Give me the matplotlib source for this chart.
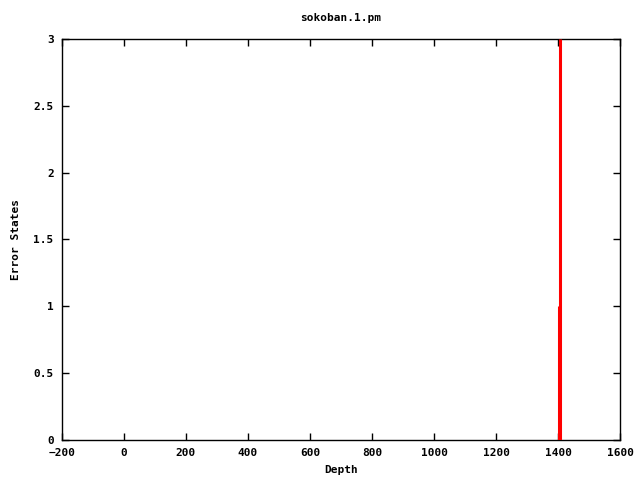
import numpy as np
import matplotlib
matplotlib.use("Agg")
import matplotlib.pyplot as plt

depth = [1402, 1408]
error_states = [1, 3]

x_ticks = [-200, 0, 200, 400, 600, 800, 1000, 1200, 1400, 1600]
y_ticks = [0, 0.5, 1, 1.5, 2, 2.5, 3]
y_labels = ["0", "0.5", "1", "1.5", "2", "2.5", "3"]

plt.rcParams['font.family'] = ['DejaVu Sans Mono']
plt.rcParams['font.size'] = 8
plt.rcParams['font.weight'] = 'bold'

fig = plt.figure(figsize=(6.4, 4.8), dpi=100)
ax = fig.add_axes([62 / 640, 1 - 440 / 480, 558 / 640, 401 / 480])

ax.vlines(depth, 0, error_states, color='#ff0000', linewidth=2.2, zorder=3)

ax.set_xlim(-200, 1600)
ax.set_ylim(0, 3)
ax.set_xticks(x_ticks)
ax.set_yticks(y_ticks)
ax.set_yticklabels(y_labels)
ax.tick_params(direction='in', length=5, width=1, top=True, right=True,
               labelsize=8, pad=6)
for s in ax.spines.values():
    s.set_linewidth(1)

ax.set_title("sokoban.1.pm", fontsize=8, fontweight='bold', pad=13)
ax.set_xlabel("Depth", fontsize=8, fontweight='bold', labelpad=5)
ax.set_ylabel("Error States", fontsize=8, fontweight='bold', labelpad=9)

fig.savefig("out.png", dpi=100)
